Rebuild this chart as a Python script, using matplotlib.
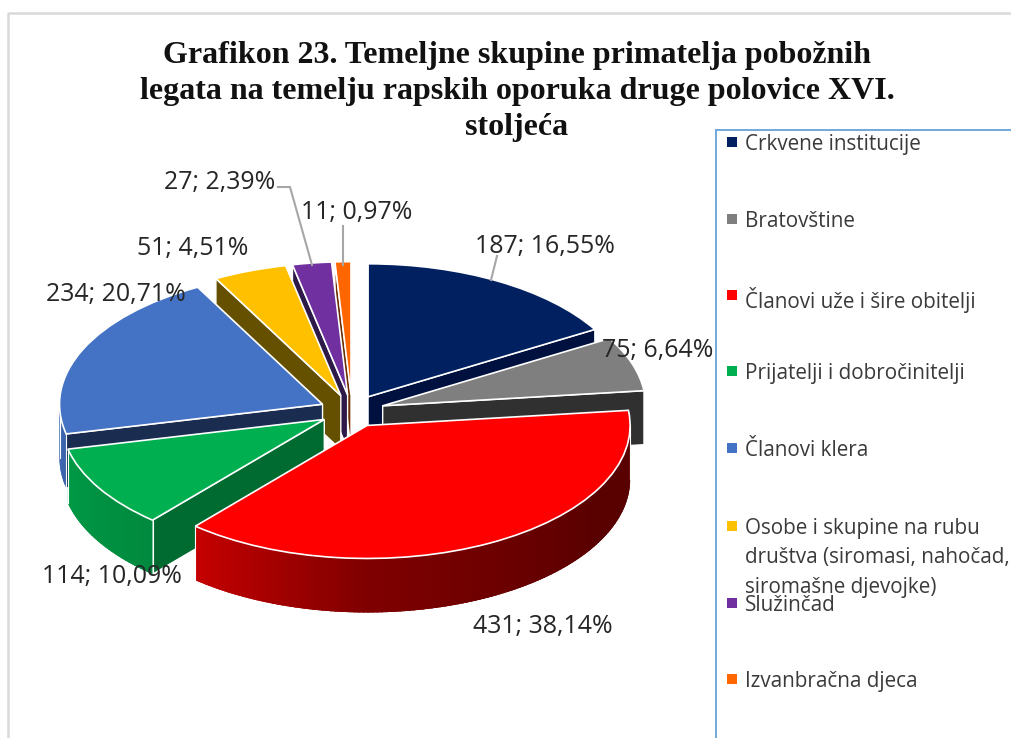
import numpy as np
import matplotlib
matplotlib.use("Agg")
import matplotlib.pyplot as plt

# primatelji legata
categories = ["Crkvene institucije", "Bratovštine", "Članovi uže i šire obitelji",
              "Prijatelji i dobročinitelji", "Članovi klera",
              "Osobe i skupine na rubu\ndruštva (siromasi, nahočad,\nsiromašne djevojke)",
              "Služinčad", "Izvanbračna djeca"]
values = [187, 75, 431, 114, 234, 51, 27, 11]
colors = ["#002060", "#7f7f7f", "#ff0000", "#00b050", "#4472c4", "#ffc000", "#7030a0", "#ff6600"]
cut_colors = ["#00113f", "#303030", "#800000", "#006b30", "#1a2c50", "#655000", "#2e1a48", "#6b2e00"]

title_lines = ["Grafikon 23. Temeljne skupine primatelja pobožnih",
               "legata na temelju rapskih oporuka druge polovice XVI.",
               "stoljeća"]

# label anchors in pixels
title_y = [55, 92, 128]
label_pos = [(545, 246), (658, 350), (543, 626), (112, 576), (116, 294), (193, 248), (220, 183), (357, 213)]
legend_y = [142, 219, 295, 371, 448, 526, 603, 679]

W, H = 1011, 738
cx, cy, a, b = 352, 411, 263, 133
depth = 54 / b
explode = 0.123

fig = plt.figure(figsize=(W / 100, H / 100), dpi=100)
ax = fig.add_axes([0, 0, 1, 1])
wedges, _ = ax.pie(values, explode=[explode] * len(values), startangle=90, counterclock=False,
                   colors=colors, radius=1, wedgeprops={"edgecolor": "white", "linewidth": 1.2})
ax.set_aspect("auto")
ax.set_xlim(-cx / a, (W - cx) / a)
ax.set_ylim((cy - H) / b, cy / b)
ax.axis("off")

# angles clockwise from the top, same as the pie uses
edges = np.concatenate([[0], np.cumsum(values)]) / sum(values) * 360
shade_ang = [90, 120, 180, 221, 260, 270]
shade_val = [0.35, 0.35, 0.5, 0.78, 0.88, 0.9]


def pt(deg, ox, oy, r=1.0, drop=0.0):
    t = np.radians(deg)
    return ox + r * np.sin(t), oy + r * np.cos(t) - drop


# back to front
order = sorted(range(len(values)), key=lambda i: -np.cos(np.radians((edges[i] + edges[i + 1]) / 2)))
order.remove(2)
order.append(2)

for rank, i in enumerate(order):
    t0, t1 = edges[i], edges[i + 1]
    mid = np.radians((t0 + t1) / 2)
    ox, oy = explode * np.sin(mid), explode * np.cos(mid)
    z = 10 + rank * 3
    wedges[i].set_zorder(z + 2)

    # cut faces
    for deg, show in ((t0, np.sin(np.radians(t0)) < 0), (t1, np.sin(np.radians(t1)) > 0)):
        if show:
            x1, y1 = pt(deg, ox, oy)
            ax.fill([ox, x1, x1, ox], [oy, y1, y1 - depth, oy - depth], color=cut_colors[i],
                    ec="white", lw=1.0, zorder=z)

    # outer wall, split up for the gradient
    lo, hi = max(t0, 90), min(t1, 270)
    if hi > lo:
        steps = np.linspace(lo, hi, max(int(hi - lo), 2) + 1)
        base = np.array(matplotlib.colors.to_rgb(colors[i]))
        for s0, s1 in zip(steps[:-1], steps[1:]):
            # each piece runs a bit under the next one, no seams
            ang = np.linspace(s0, min(s1 + 1.5, hi), 5)
            xs, ys = pt(ang, ox, oy)
            shade = base * np.interp((s0 + s1) / 2, shade_ang, shade_val)
            ax.fill(np.r_[xs, xs[::-1]], np.r_[ys, ys[::-1] - depth], color=shade, lw=0, zorder=z + 1)
        xs, ys = pt(np.array([lo, hi]), ox, oy)
        ax.plot([xs[0], xs[0]], [ys[0], ys[0] - depth], color="white", lw=0.8, zorder=z + 1)
        ax.plot([xs[1], xs[1]], [ys[1], ys[1] - depth], color="white", lw=0.8, zorder=z + 1)

# overlay in pixels for texts
ov = fig.add_axes([0, 0, 1, 1], zorder=5)
ov.set_xlim(0, W)
ov.set_ylim(H, 0)
ov.axis("off")
ov.patch.set_alpha(0)

# faint chart frame
ov.plot([8, 8, W], [H, 13, 13], color="#d9d9d9", lw=1.8)

for line, y in zip(title_lines, title_y):
    ov.text(517, y, line, ha="center", va="center", family="Liberation Serif", weight="bold",
            fontsize=23, color="#111111")

total = sum(values)
for v, (x, y) in zip(values, label_pos):
    txt = f"{v}; {v / total * 100:.2f}%".replace(".", ",")
    ov.text(x, y, txt, ha="center", va="center", family="Open Sans", fontsize=17.9, color="#262626")

ov.plot([497, 491], [256, 280], color="#a6a6a6", lw=1.5)
ov.plot([278, 290, 312], [187, 187, 265], color="#a6a6a6", lw=1.5)
ov.plot([343, 343], [226, 265], color="#a6a6a6", lw=1.5)

# legend
ov.plot([716, 716], [H, 130], color="#6fa8dc", lw=1.4, clip_on=False)
ov.plot([716, W], [130, 130], color="#6fa8dc", lw=1.4)
for name, c, y in zip(categories, colors, legend_y):
    ov.plot([732], [y - 0], marker="s", ms=6.5, color=c, mew=0)
    ov.text(745, y - 8, name, ha="left", va="top", family="Open Sans", fontsize=14.9,
            color="#3a3a3a", linespacing=1.52)

fig.savefig("out.png", dpi=100)
